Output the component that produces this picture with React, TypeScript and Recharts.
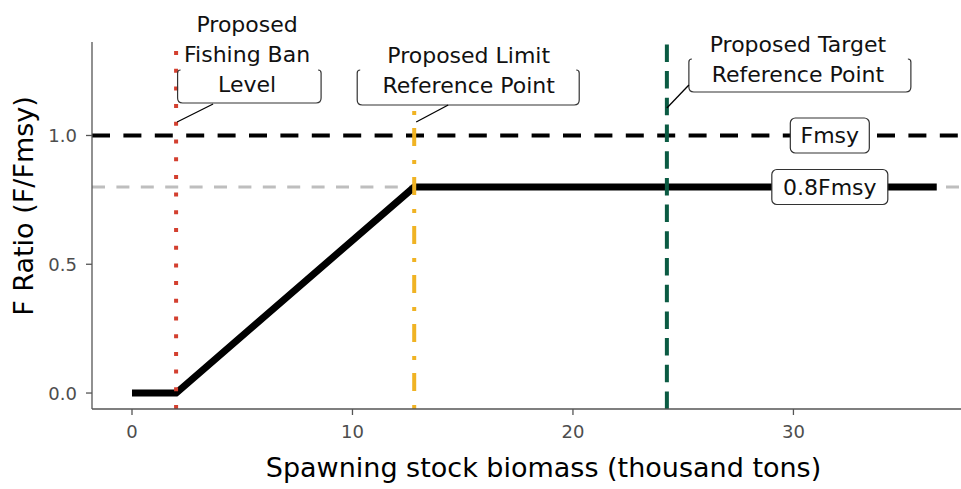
import React from 'react';
import { LineChart, Line, XAxis, YAxis, ReferenceLine, ReferenceDot } from 'recharts';

// ---- data ----
const hcrBiomass = [0, 2, 12.8, 36.5];
const hcrFRatio = [0, 0, 0.8, 0.8];
const fmsyLevel = 1.0;
const fmsy80Level = 0.8;
const fishingBanLevel = 2;
const limitRefPoint = 12.8;
const targetRefPoint = 24.26;
const xTicks = [0, 10, 20, 30];
const yTicks = [0, 0.5, 1.0];
const banLabel = ['Proposed', 'Fishing Ban', 'Level'];
const limitLabel = ['Proposed Limit', 'Reference Point'];
const targetLabel = ['Proposed Target', 'Reference Point'];
const fmsyLabel = 'Fmsy';
const fmsy80Label = '0.8Fmsy';
const hLabelBiomass = 31.65;
const xTitle = 'Spawning stock biomass (thousand tons)';
const yTitle = 'F Ratio (F/Fmsy)';
const xDomain = [-1.814, 37.6];
const yDomain = [-0.062, 1.363];

const hcrData = hcrBiomass.map((x, i) => ({ x, y: hcrFRatio[i] }));

const FONT = '"DejaVu Sans", sans-serif';
const AXIS = '#555555';
const TICKTXT = '#4D4D4D';
const BOX = '#333333';
const TICKFS = 18;

type VCfg = {
  textDx: number;
  baselines: number[];
  boxL: number;
  boxR: number;
  boxT: number;
  boxB: number;
  wL: number;
  wR: number;
  wT: number;
  leader: number[];
};

const banCfg: VCfg = { textDx: 71, baselines: [-10.5, 20, 50], boxL: 1.5, boxR: 145, boxT: 28, boxB: 61, wL: 3, wR: 146, wT: -42, leader: [1, 80, 37, 62] };
const limitCfg: VCfg = { textDx: 54.5, baselines: [21, 50.5], boxL: -57, boxR: 165, boxT: 28, boxB: 63, wL: -52, wR: 161, wT: -8, leader: [2, 80, 34, 63] };
const targetCfg: VCfg = { textDx: 131, baselines: [9.5, 39.7], boxL: 22, boxR: 244, boxT: 17, boxB: 50, wL: 25, wR: 240, wT: -8, leader: [0, 66, 22, 43] };

const VLabel = (props: any) => {
  const { cx, cy, lines, cfg } = props as { cx: number; cy: number; lines: string[]; cfg: VCfg };
  const r = 5;
  const L = cx + cfg.boxL;
  const R = cx + cfg.boxR;
  const T = cy + cfg.boxT;
  const B = cy + cfg.boxB;
  const d = `M ${L + 3} ${T} Q ${L} ${T} ${L} ${T + 3} L ${L} ${B - r} Q ${L} ${B} ${L + r} ${B} L ${R - r} ${B} Q ${R} ${B} ${R} ${B - r} L ${R} ${T + 3} Q ${R} ${T} ${R - 3} ${T}`;
  const [lx1, ly1, lx2, ly2] = cfg.leader;
  return (
    <g>
      <rect x={cx + cfg.wL} y={cy + cfg.wT} width={cfg.wR - cfg.wL} height={B - (cy + cfg.wT)} fill="#ffffff" />
      <path d={d} fill="none" stroke={BOX} strokeWidth={1.2} />
      <line x1={cx + lx1} y1={cy + ly1} x2={cx + lx2} y2={cy + ly2} stroke="#000" strokeWidth={1.3} />
      {lines.map((t, i) => (
        <text key={i} x={cx + cfg.textDx} y={cy + cfg.baselines[i]} textAnchor="middle" fontSize={22} fontFamily={FONT} fill="#111">
          {t}
        </text>
      ))}
    </g>
  );
};

const HLabel = (props: any) => {
  const { cx, cy, text, w } = props;
  return (
    <g>
      <rect x={cx - w / 2} y={cy - 17.5} width={w} height={35} rx={5} ry={5} fill="#ffffff" stroke={BOX} strokeWidth={1.2} />
      <text x={cx} y={cy + 8} textAnchor="middle" fontSize={22} fontFamily={FONT} fill="#111">
        {text}
      </text>
    </g>
  );
};

const XTick = (p: any) => (
  <text x={p.x} y={p.y} dy="0.71em" textAnchor="middle" fontSize={TICKFS} fontFamily={FONT} fill={TICKTXT}>
    {String(p.payload.value)}
  </text>
);

const YTick = (p: any) => (
  <text x={p.x} y={p.y} dy="0.36em" textAnchor="end" fontSize={TICKFS} fontFamily={FONT} fill={TICKTXT}>
    {Number(p.payload.value).toFixed(1)}
  </text>
);

export default function App() {
  return (
    <div style={{ position: 'absolute', left: 0, top: 0, width: 961, height: 489, background: '#fff' }}>
      <LineChart width={961} height={489} data={hcrData} margin={{ top: 42, right: 0, bottom: 0, left: 0 }} style={{ fontFamily: FONT }}>
        <XAxis
          dataKey="x"
          type="number"
          domain={xDomain}
          allowDataOverflow
          ticks={xTicks}
          height={80}
          tickSize={6}
          tickMargin={10}
          tick={XTick}
          axisLine={{ stroke: AXIS, strokeWidth: 1.3 }}
          tickLine={{ stroke: AXIS, strokeWidth: 1.3 }}
          label={(p: any) => {
            const vb = p.viewBox || {};
            return (
              <text x={vb.x + vb.width / 2 + 17} y={vb.y + 68} textAnchor="middle" fontSize={27} fontFamily={FONT} fill="#000">
                {xTitle}
              </text>
            );
          }}
        />
        <XAxis xAxisId="top" orientation="top" dataKey="x" type="number" domain={xDomain} allowDataOverflow height={0} tick={false} tickLine={false} axisLine={{ stroke: AXIS, strokeWidth: 1.3 }} />
        <YAxis
          type="number"
          domain={yDomain}
          allowDataOverflow
          ticks={yTicks}
          width={92}
          tickSize={6}
          tickMargin={9}
          tick={YTick}
          axisLine={{ stroke: AXIS, strokeWidth: 1.3 }}
          tickLine={{ stroke: AXIS, strokeWidth: 1.3 }}
          label={(p: any) => {
            const vb = p.viewBox || {};
            const cy = vb.y + vb.height / 2 - 19.5;
            return (
              <text x={33} y={cy} transform={`rotate(-90, 33, ${cy})`} textAnchor="middle" fontSize={27} fontFamily={FONT} fill="#000">
                {yTitle}
              </text>
            );
          }}
        />
        <ReferenceLine y={fmsy80Level} stroke="#BEBEBE" strokeWidth={3} strokeDasharray="13 11.4" zIndex={300} />
        <Line dataKey="y" type="linear" stroke="#000" strokeWidth={7} dot={false} activeDot={false} isAnimationActive={false} strokeLinejoin="round" zIndex={400} />
        <ReferenceLine y={fmsyLevel} stroke="#000" strokeWidth={4} strokeDasharray="18 13.4" zIndex={410} />
        <ReferenceLine x={fishingBanLevel} stroke="#D33F2F" strokeWidth={4} strokeDasharray="4 13.7" zIndex={420} />
        <ReferenceLine x={limitRefPoint} stroke="#F0B323" strokeWidth={4} strokeDasharray="4 14 18 13" zIndex={420} />
        <ReferenceLine x={targetRefPoint} stroke="#0B5B43" strokeWidth={4} strokeDasharray="17.5 9.2" zIndex={420} />
        <ReferenceDot x={fishingBanLevel} y={yDomain[1]} r={1} ifOverflow="visible" zIndex={2100} shape={(p: any) => <VLabel cx={p.cx} cy={p.cy} lines={banLabel} cfg={banCfg} />} />
        <ReferenceDot x={limitRefPoint} y={yDomain[1]} r={1} ifOverflow="visible" zIndex={2100} shape={(p: any) => <VLabel cx={p.cx} cy={p.cy} lines={limitLabel} cfg={limitCfg} />} />
        <ReferenceDot x={targetRefPoint} y={yDomain[1]} r={1} ifOverflow="visible" zIndex={2100} shape={(p: any) => <VLabel cx={p.cx} cy={p.cy} lines={targetLabel} cfg={targetCfg} />} />
        <ReferenceDot x={hLabelBiomass} y={fmsyLevel} r={1} ifOverflow="visible" zIndex={2100} shape={(p: any) => <HLabel cx={p.cx} cy={p.cy} text={fmsyLabel} w={79} />} />
        <ReferenceDot x={hLabelBiomass} y={fmsy80Level} r={1} ifOverflow="visible" zIndex={2100} shape={(p: any) => <HLabel cx={p.cx} cy={p.cy} text={fmsy80Label} w={116} />} />
      </LineChart>
    </div>
  );
}
